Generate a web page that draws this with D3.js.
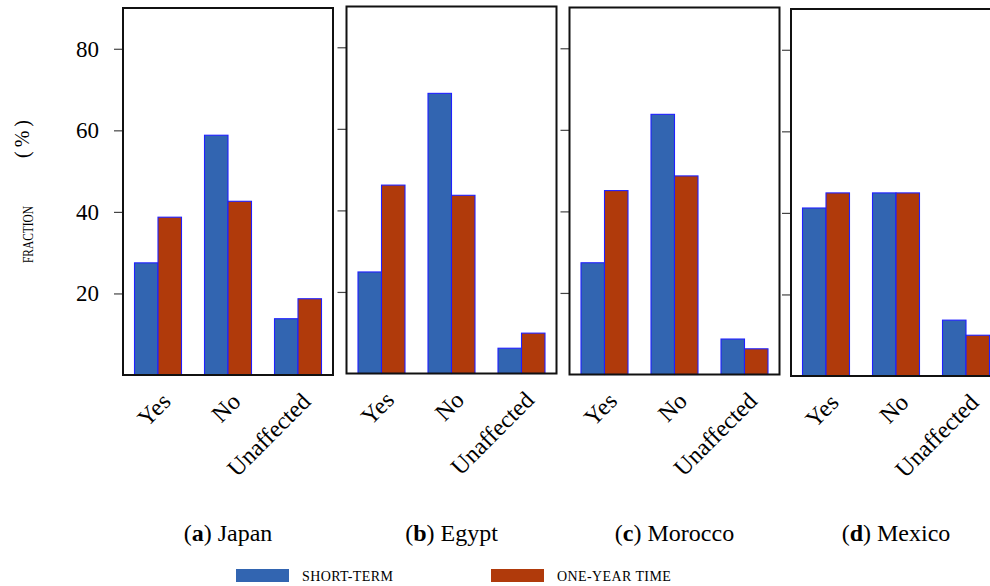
<!DOCTYPE html>
<html>
<head>
<meta charset="utf-8">
<script src="https://cdn.jsdelivr.net/npm/d3@7"></script>
<style>
  body { margin: 0; background: #fff; }
  svg { display: block; }
  text { font-family: "Liberation Serif", "Times New Roman", serif; }
</style>
</head>
<body>
<script>
var w = 990,
    h = 586;

// data
var categories = ["Yes", "No", "Unaffected"];
var countries = ["Japan", "Egypt", "Morocco", "Mexico"];
var letters = ["a", "b", "c", "d"];
var seriesNames = ["short-term", "one-year time"];
var shortTerm = [[27.5, 58.8, 13.8], [24.9, 68.7, 6.2], [27.4, 63.8, 8.7], [41.2, 44.9, 13.7]];
var oneYear = [[38.7, 42.6, 18.7], [46.2, 43.7, 9.9], [45.1, 48.7, 6.3], [44.9, 44.9, 10.0]];
var yTicks = [20, 40, 60, 80];

var colors = ["#3265b1", "#b03a0b"];

// panel placement (left, top) for the four subfigures
var panelX = [123, 346.5, 569.5, 791],
    panelY = [8, 6.5, 7.5, 9],
    pw = 210,
    ph = 367;

var svg = d3.select("body").append("svg")
    .attr("width", w)
    .attr("height", h);

var y = d3.scaleLinear().domain([0, 90]).range([ph, 0]);

var x = d3.scaleBand().domain(categories).range([0, pw]).padding(0);

var xs = d3.scaleBand().domain(seriesNames)
    .range([x.bandwidth() / 2 - 23.5, x.bandwidth() / 2 + 23.5]);

countries.forEach(function(country, i) {
  var g = svg.append("g")
      .attr("transform", "translate(" + panelX[i] + "," + panelY[i] + ")");

  var rows = categories.map(function(c, j) {
    return { cat: c, vals: [shortTerm[i][j], oneYear[i][j]] };
  });

  var groups = g.selectAll(".grp")
      .data(rows)
    .enter().append("g")
      .attr("class", "grp")
      .attr("transform", function(d) { return "translate(" + x(d.cat) + ",0)"; });

  groups.selectAll("rect")
      .data(function(d) { return d.vals.map(function(v, k) { return { s: seriesNames[k], v: v, k: k }; }); })
    .enter().append("rect")
      .attr("x", function(d) { return xs(d.s); })
      .attr("y", function(d) { return y(d.v); })
      .attr("width", xs.bandwidth())
      .attr("height", function(d) { return ph - y(d.v); })
      .attr("fill", function(d) { return colors[d.k]; })
      .attr("stroke", "#2020ff")
      .attr("stroke-width", 1.1);

  // left ticks, labels only on the first panel
  var axis = d3.axisLeft(y).tickValues(yTicks).tickSize(9).tickPadding(15);
  if (i > 0) axis.tickFormat("");
  var ax = g.append("g").call(axis);
  ax.select(".domain").remove();
  ax.selectAll(".tick line").attr("stroke", "#444").attr("stroke-width", 1.2);
  ax.selectAll(".tick text")
      .attr("fill", "#000")
      .style("font-size", "23px")
      .style("font-family", "'Liberation Serif', serif");

  // frame
  g.append("rect")
      .attr("width", pw)
      .attr("height", ph)
      .attr("fill", "none")
      .attr("stroke", "#111")
      .attr("stroke-width", 2);

  // rotated category labels
  g.selectAll(".cat")
      .data(categories)
    .enter().append("text")
      .attr("class", "cat")
      .attr("transform", function(d) {
        return "translate(" + (x(d) + x.bandwidth() / 2 + 14) + "," + (ph + 28) + ") rotate(-45)";
      })
      .attr("text-anchor", "end")
      .style("font-size", "24px")
      .text(function(d) { return d; });

  // caption
  var cap = svg.append("text")
      .attr("x", panelX[i] + pw / 2)
      .attr("y", 541)
      .attr("text-anchor", "middle")
      .style("font-size", "24px");
  cap.append("tspan").text("(");
  cap.append("tspan").attr("font-weight", "bold").text(letters[i]);
  cap.append("tspan").text(") " + country);
});

// y axis title
svg.append("text")
    .attr("transform", "translate(33,263) rotate(-90)")
    .attr("textLength", 57)
    .attr("lengthAdjust", "spacingAndGlyphs")
    .style("font-size", "14px")
    .text("FRACTION");
svg.append("text")
    .attr("transform", "translate(29,158) rotate(-90)")
    .style("font-size", "20px")
    .style("letter-spacing", "4px")
    .text("(%)");

// legend
var legX = [236, 491];
seriesNames.forEach(function(s, k) {
  svg.append("rect")
      .attr("x", legX[k])
      .attr("y", 569)
      .attr("width", 53)
      .attr("height", 13)
      .attr("fill", colors[k]);
  svg.append("text")
      .attr("x", legX[k] + 66)
      .attr("y", 581)
      .style("font-size", "14px")
      .style("letter-spacing", "0.4px")
      .text(s.toUpperCase());
});
</script>
</body>
</html>
